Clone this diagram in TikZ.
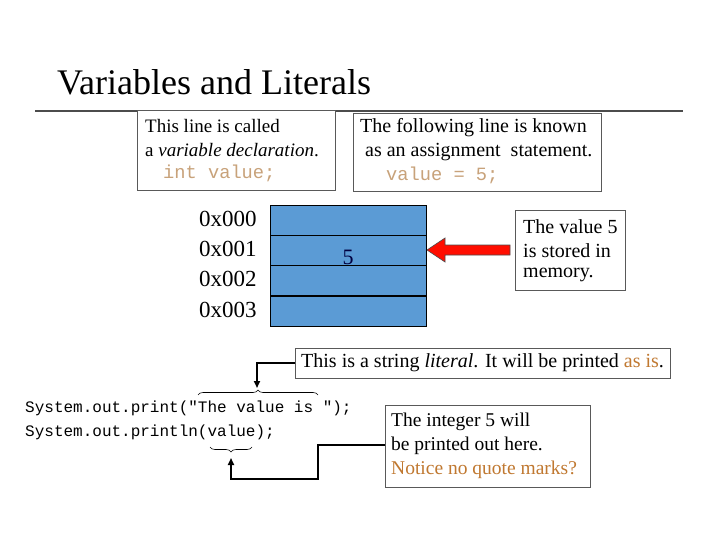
\documentclass[tikz,border=0pt]{standalone}
\usepackage{fontspec}
\setmainfont{Liberation Serif}
\setmonofont{Liberation Mono}
\usetikzlibrary{decorations.pathreplacing,arrows.meta}
\definecolor{memblue}{HTML}{5B9BD5}
\definecolor{codeor}{HTML}{C8A27A}
\definecolor{noteor}{HTML}{C07830}
\begin{document}
\begin{tikzpicture}[x=1pt,y=-1pt,
  note/.style={draw=black!65,line width=0.8pt,fill=white,inner sep=0pt,anchor=north west},
  txt/.style={font=\fontsize{20}{23}\selectfont,align=left,anchor=west,inner sep=0pt},
  addr/.style={font=\fontsize{23}{24}\selectfont,anchor=west,inner sep=0pt},
  cell/.style={draw=black,line width=0.8pt,fill=memblue},
  conn/.style={line width=1.6pt,-{Triangle[length=7pt,width=6pt]}},
  code/.style={font=\ttfamily\fontsize{16}{18}\selectfont,anchor=west,inner sep=0pt},
  bcode/.style={font=\ttfamily\fontsize{18.7}{20}\selectfont,text=codeor,anchor=west,inner sep=0pt}]
\useasboundingbox[fill=white] (0,0) rectangle (720,540);
\node[anchor=west,font=\fontsize{36}{38}\selectfont,inner sep=0pt] (title) at (57,82) {Variables and Literals};
\draw[black!70,line width=1.5pt] (35,111) -- (683,111);
% box1
\node[note,minimum width=198,minimum height=80] (b1) at (137,110) {};
\node[txt,font=\fontsize{19}{23}\selectfont] at (145,126) {This line is called};
\node[txt,font=\fontsize{19}{23}\selectfont] at (145,150) {a \textit{variable declaration}.};
\node[bcode] at (163,173) {int value;};
% box2
\node[note,minimum width=248,minimum height=78] (b2) at (353,113) {};
\node[txt] at (360,128) {The following line is known};
\node[txt] at (365,152) {as an assignment\ \ statement.};
\node[bcode] at (386,175) {value = 5;};
% memory
\foreach \i/\y in {0/205,1/235,2/265,3/296}{
  \draw[cell] (270,\y) rectangle (426,\y+30.3);
  \node[addr] at (199,\y+14) {0x00\i};
}
\node[font=\fontsize{22}{24}\selectfont,text=black!75!blue] (five) at (348,257) {5};
% box3
\node[note,minimum width=110,minimum height=80] (b3) at (515,210) {};
\node[txt] at (523,227) {The value 5};
\node[txt] at (523,251) {is stored in};
\node[txt] at (523,275) {memory.};
\draw[fill=red!90!orange,draw=black!70,line width=0.6pt]
  (510,245) -- (445,245) -- (445,238) -- (427,250) -- (445,262) -- (445,255) -- (510,255) -- cycle;
% string literal box
\node[note,minimum width=375,minimum height=30] (lit) at (295,348) {};
\node[txt] at (301,363) {This is a string \textit{literal}. It will be printed \textcolor{noteor}{as is}.};
% code
\node[code] (c1) at (25,408) {System.out.print("The value is ");};
\node[code] (c2) at (25,432) {System.out.println(value);};
\draw[decorate,decoration={brace,amplitude=5pt},line width=0.6pt] (198,395) -- (318,395);
\draw[decorate,decoration={brace,amplitude=5pt,mirror},line width=0.6pt] (210,447) -- (252,447);
\coordinate (br1) at (257,388);
\coordinate (br2) at (231,458);
\draw[conn] (lit.west |- 0,363) -- (257,363) -- (br1);
% box4
\node[note,minimum width=205,minimum height=82] (b4) at (385,405) {};
\node[txt,font=\fontsize{19.5}{23}\selectfont] at (391,422) {The integer 5 will};
\node[txt,font=\fontsize{19.5}{23}\selectfont] at (391,446) {be printed out here.};
\node[txt,font=\fontsize{19.5}{23}\selectfont,text=noteor] at (391,470) {Notice no quote marks?};
\draw[conn] (b4.west |- 0,445) -- (318,445) -- (318,479) -- (231,479) -- (br2);
\end{tikzpicture}
\end{document}
